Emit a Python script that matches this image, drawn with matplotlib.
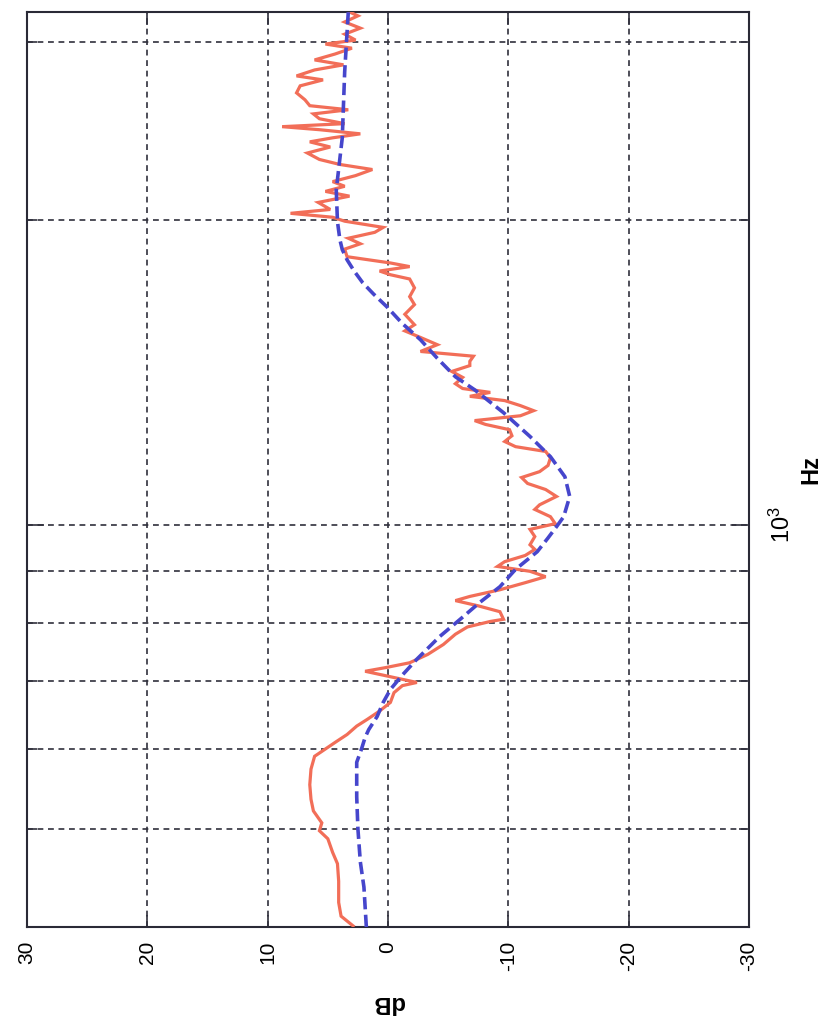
import matplotlib
matplotlib.use('Agg')
import matplotlib.pyplot as plt
from matplotlib.ticker import FixedLocator, NullFormatter

# ---------------------------------------------------------------------------
# Data (frequency in Hz, level in dB) -- chart is drawn rotated 90 deg CCW
# ---------------------------------------------------------------------------
blue_hz = [400, 438, 464, 500, 538, 582, 600, 616, 627, 646, 667, 687, 710,
           736, 775, 806, 837, 868, 903, 940, 970, 995, 1018, 1066, 1115,
           1167, 1222, 1290, 1359, 1400, 1460, 1523, 1580, 1642, 1690, 1734,
           1780, 1827, 1870, 1913, 1993, 2142, 2412, 2803, 3212]
blue_db = [1.8, 2.0, 2.3, 2.5, 2.6, 2.6, 2.2, 1.9, 1.6, 0.9, 0.4, -0.2, -1.2,
           -2.4, -4.3, -6.0, -7.6, -9.3, -10.6, -12.4, -13.3, -14.0, -14.6,
           -15.1, -14.7, -13.5, -11.8, -9.6, -7.2, -5.6, -4.1, -2.7, -1.2,
           0.1, 1.2, 2.1, 2.8, 3.4, 3.8, 4.0, 4.2, 4.3, 3.8, 3.6, 3.3]

red_hz = [401, 410, 423, 444, 462, 474, 489, 498, 507, 521, 535, 553, 573,
          590, 600, 610, 620, 632, 642, 654, 667, 682, 693, 698, 703, 709,
          716, 722, 730, 744, 761, 779, 792, 802, 806, 820, 831, 841, 849,
          862, 876, 888, 899, 909, 919, 932, 945, 955, 973, 989, 1002, 1018,
          1035, 1046, 1066, 1083, 1098, 1113, 1128, 1144, 1164, 1181, 1194,
          1208, 1224, 1241, 1256, 1267, 1281, 1296, 1311, 1326, 1339, 1351,
          1363, 1378, 1398, 1417, 1436, 1450, 1467, 1483, 1506, 1531, 1554,
          1576, 1614, 1650, 1680, 1714, 1749, 1766, 1781, 1799, 1814, 1840,
          1872, 1895, 1919, 1945, 1967, 1995, 2013, 2031, 2049, 2082, 2112,
          2135, 2160, 2183, 2213, 2244, 2270, 2296, 2330, 2362, 2390, 2412,
          2434, 2457, 2474, 2491, 2519, 2547, 2571, 2595, 2630, 2672, 2715,
          2752, 2777, 2815, 2848, 2880, 2919, 2958, 2986, 3013, 3054, 3096,
          3140, 3184, 3212]
red_db = [2.9, 3.9, 4.1, 4.1, 4.2, 4.6, 5.0, 5.7, 5.5, 6.2, 6.4, 6.5, 6.4,
          6.1, 5.2, 4.3, 3.4, 2.6, 1.7, 0.7, -0.2, -0.5, -1.2, -2.4, -1.2,
          0.2, 1.9, 0.2, -1.8, -3.3, -4.6, -5.6, -6.6, -8.5, -9.6, -9.3,
          -7.5, -5.6, -6.8, -9.3, -11.4, -13.1, -11.8, -9.1, -9.7, -11.4,
          -12.2, -11.8, -12.2, -11.8, -13.9, -13.5, -12.2, -12.6, -14.0,
          -13.1, -11.6, -11.1, -12.6, -13.3, -13.5, -13.1, -10.6, -9.7,
          -10.3, -10.1, -8.1, -7.2, -11.0, -12.1, -11.0, -9.7, -6.8, -8.5,
          -6.2, -5.6, -6.2, -5.3, -6.8, -6.8, -7.1, -2.7, -4.1, -2.7, -1.4,
          -2.2, -1.4, -2.2, -1.8, -2.2, -1.8, -0.2, 0.7, -1.8, -0.2, 3.4,
          3.6, 2.3, 3.3, 1.1, 0.4, 3.6, 4.6, 8.1, 4.8, 5.8, 3.2, 5.2, 3.6,
          4.6, 2.7, 1.3, 4.0, 5.7, 6.7, 4.8, 6.5, 4.6, 2.3, 5.7, 8.8, 3.6,
          5.7, 6.2, 3.3, 6.5, 6.9, 7.6, 7.3, 5.4, 7.6, 6.1, 3.7, 6.1, 4.4,
          3.0, 5.2, 2.7, 3.6, 2.3, 3.6, 2.5, 3.2]

db_ticks = [30, 20, 10, 0, -10, -20, -30]
hz_major = [1000]
hz_major_labels = ['$10^{3}$']
hz_minor = [400, 500, 600, 700, 800, 900, 2000, 3000]

RED = '#f26e58'
BLUE = '#4646cc'
GRID = '#30303c'

plt.rcParams.update({
    'font.family': ['Liberation Sans', 'DejaVu Sans'],
    'mathtext.fontset': 'custom',
    'mathtext.rm': 'Liberation Sans',
    'mathtext.it': 'Liberation Sans',
})

fig = plt.figure(figsize=(8.34, 10.27), dpi=100)
ax = fig.add_axes([27 / 834, 100 / 1027, 722 / 834, 915 / 1027])

ax.plot(red_db, red_hz, color=RED, lw=2.3, solid_joinstyle='miter', zorder=3)
ax.plot(blue_db, blue_hz, color=BLUE, lw=2.6, dashes=(3.4, 1.5), zorder=4)

ax.set_yscale('log')
ax.set_xlim(30, -30)
ax.set_ylim(400, 3212)

ax.set_xticks(db_ticks)
ax.set_xticklabels([str(v) for v in db_ticks], rotation=90, fontsize=15)
ax.yaxis.set_major_locator(FixedLocator(hz_major))
ax.set_yticklabels(hz_major_labels, rotation=90, fontsize=17, va='center')
ax.yaxis.set_minor_locator(FixedLocator(hz_minor))
ax.yaxis.set_minor_formatter(NullFormatter())

ax.tick_params(axis='x', which='both', direction='in', top=True, bottom=True,
               length=9, width=1.2, color=GRID, pad=10)
ax.tick_params(axis='y', which='major', direction='in', left=True, right=True,
               labelleft=False, labelright=True, length=12, width=1.2,
               color=GRID, pad=15)
ax.tick_params(axis='y', which='minor', direction='in', left=True, right=True,
               length=7, width=1.2, color=GRID)

ax.grid(True, which='major', axis='both', color=GRID, lw=1.2,
        linestyle=(0, (3.5, 2.8)))
ax.grid(True, which='minor', axis='y', color=GRID, lw=1.2,
        linestyle=(0, (3.5, 2.8)))

for spine in ax.spines.values():
    spine.set_color('#2a2a36')
    spine.set_linewidth(1.5)

ax.set_xlabel('dB', rotation=180, fontsize=17, fontweight='bold', labelpad=14)
ax.yaxis.set_label_position('right')
ax.set_ylabel('Hz', rotation=90, fontsize=17, fontweight='bold', labelpad=3)

fig.savefig('out.png', dpi=100, facecolor='white')
